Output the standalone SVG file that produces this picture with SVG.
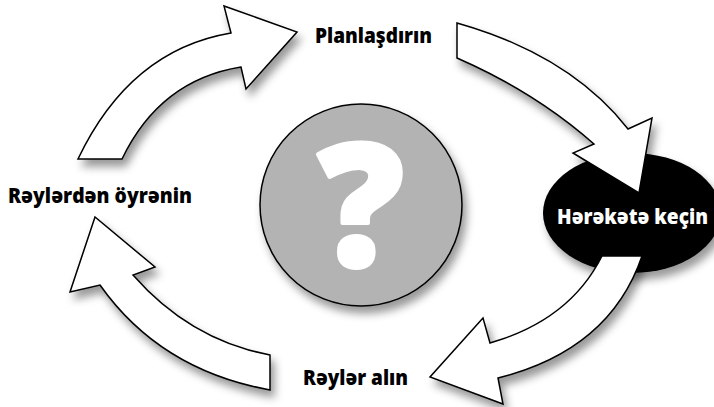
<svg xmlns="http://www.w3.org/2000/svg" width="714" height="407" viewBox="0 0 714 407">
<defs>
<filter id="sh" x="-20%" y="-20%" width="150%" height="150%">
<feDropShadow dx="4" dy="7" stdDeviation="4.5" flood-color="#000" flood-opacity="0.4"/>
</filter>
<style>
.arrow{fill:#fff;stroke:#000;stroke-width:1.5;stroke-linejoin:miter;filter:url(#sh)}
.lbl{font-family:"Open Sans","Liberation Sans",sans-serif;font-weight:800;font-size:21px;fill:#000}
</style>
</defs>
<rect width="714" height="407" fill="#fff"/>
<g id="center">
<circle cx="361" cy="205" r="101" fill="#b3b3b3" stroke="#000" stroke-width="1.5" filter="url(#sh)"/>
<text x="361" y="266" text-anchor="middle" font-family="Open Sans,Liberation Sans,sans-serif" font-weight="800" font-size="170" fill="#fff" stroke="#fff" stroke-width="4" stroke-linejoin="round">?</text>
</g>
<g id="act">
<ellipse cx="632" cy="213" rx="89" ry="60" fill="#000" filter="url(#sh)"/>
<text x="557" y="224" textLength="151" lengthAdjust="spacingAndGlyphs" class="lbl" style="fill:#fff">Hərəkətə keçin</text>
</g>
<g id="plan">
<text x="315" y="43" textLength="117" lengthAdjust="spacingAndGlyphs" class="lbl">Planlaşdırın</text>
</g>
<g id="learn">
<text x="8" y="203" textLength="184" lengthAdjust="spacingAndGlyphs" class="lbl">Rəylərdən öyrənin</text>
</g>
<g id="feedback">
<text x="303" y="385" textLength="105" lengthAdjust="spacingAndGlyphs" class="lbl">Rəylər alın</text>
</g>
<g id="connectors">
<path class="arrow" d="M78,159 Q130,50 231,33 L224,6 L297,32 L246,89 L241,67 Q160,80 122,159 Z"/>
<path class="arrow" d="M457,23 Q570,55 628,129 L652,118 L639,193 L573,153 L594,144 Q535,92 457,58 Z"/>
<path class="arrow" d="M642,256 Q610,350 498,378 L503,404 L430,377 L483,318 L490,343 Q570,320 602,256 Z"/>
<path class="arrow" d="M270,390 Q160,370 100,285 L70,292 L95,217 L155,267 L133,275 Q190,340 270,355 Z"/>
</g>
</svg>
